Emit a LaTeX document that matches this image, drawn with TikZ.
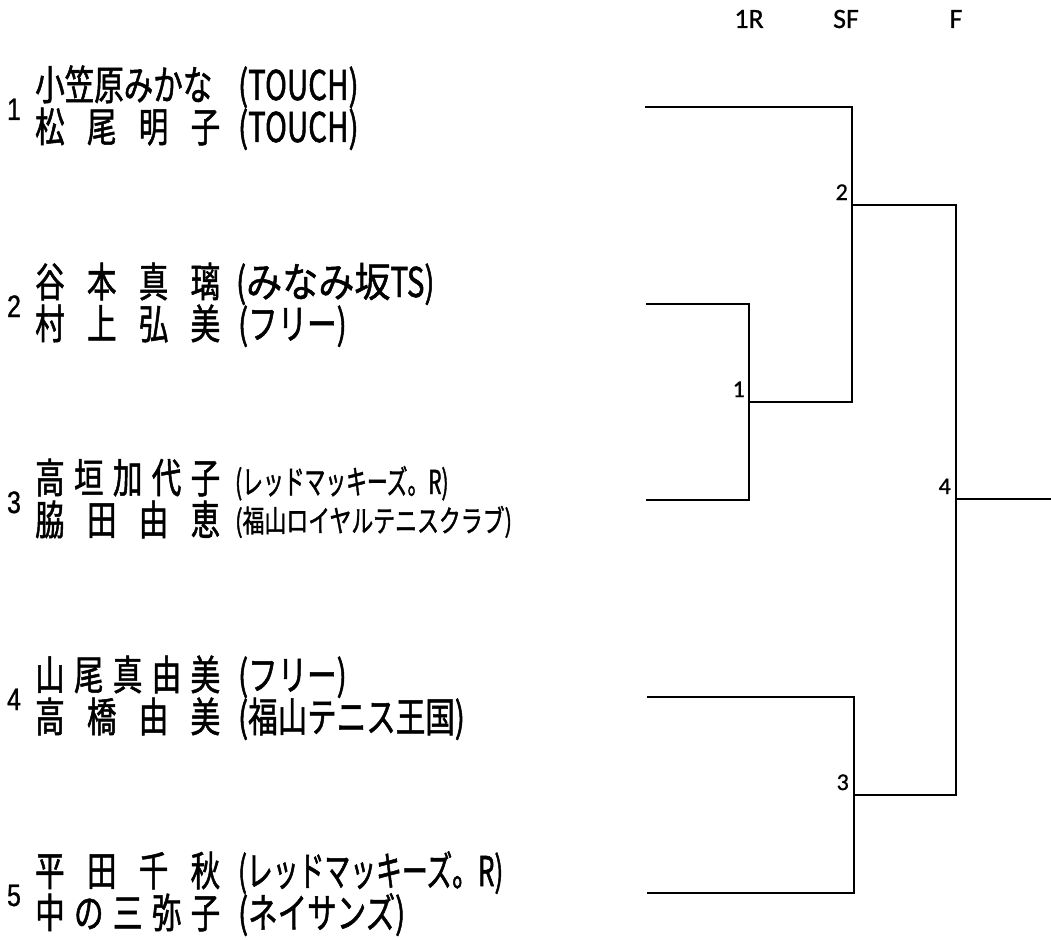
\documentclass[tikz,border=0pt]{standalone}
\usepackage{fontspec}
\newfontfamily\jpfont[FakeStretch=0.72, FakeBold=1.2]{Noto Sans CJK JP}
\newfontfamily\jpnarrow[FakeStretch=0.63, FakeBold=1.2]{Noto Sans CJK JP}
\newfontfamily\jpwide[FakeStretch=0.88, FakeBold=1.2]{Noto Sans CJK JP}
\newfontfamily\seedfont[FakeStretch=0.8, FakeBold=1]{Liberation Sans}
\newfontfamily\calfont[FakeBold=0.8]{Carlito}
\newcommand\teamname[1]{\makebox[185pt][s]{#1}}
\tikzset{
  bline/.style={line width=2.6pt, line join=miter, draw=black},
  pname/.style={anchor=base west, inner sep=0pt, font=\jpfont\fontsize{41}{44}\selectfont},
  club/.style={anchor=base west, inner sep=0pt, font=\jpfont\fontsize{41}{44}\selectfont},
  narrowclub/.style={anchor=base west, inner sep=0pt, font=\jpnarrow\fontsize{41}{44}\selectfont},
  smallnarrow/.style={anchor=base west, inner sep=0pt, font=\jpnarrow\fontsize{33}{36}\selectfont},
  smallclub/.style={anchor=base west, inner sep=0pt, font=\jpfont\fontsize{30.4}{33}\selectfont},
  seed/.style={anchor=base, inner sep=0pt, font=\seedfont\fontsize{31}{33}\selectfont},
  hdr/.style={anchor=base, inner sep=0pt, font=\calfont\fontsize{28}{30}\selectfont},
  mlabel/.style={anchor=base east, inner sep=0pt, font=\calfont\fontsize{24}{26}\selectfont}
}
\begin{document}
\begin{tikzpicture}[x=1pt,y=-1pt]
\useasboundingbox[fill=white] (0,0) rectangle (1051,939);

% headers
\node[hdr] (h1) at (749,28) {1R};
\node[hdr] (h2) at (846,28) {SF};
\node[hdr] (h3) at (956,28) {F};

% entry 1 (center 107)
\node[seed] (s1) at (14,120) {1};
\node[pname] (n1a) at (35,100) {小笠原みかな};
\node[club] (c1a) at (238,100) {(TOUCH)};
\node[pname] (n1b) at (35,142) {\teamname{松\hfill 尾\hfill 明\hfill 子}};
\node[club] (c1b) at (238,142) {(TOUCH)};

% entry 2 (center 304)
\node[seed] (s2) at (14,317) {2};
\node[pname] (n2a) at (35,297) {\teamname{谷\hfill 本\hfill 真\hfill 璃}};
\node[club] (c2a) at (236,297) {({\jpwide みなみ坂}TS)};
\node[pname] (n2b) at (35,339) {\teamname{村\hfill 上\hfill 弘\hfill 美}};
\node[club] (c2b) at (238,339) {(フリー)};

% entry 3 (center 500)
\node[seed] (s3) at (14,513) {3};
\node[pname] (n3a) at (35,493) {\teamname{高\hfill 垣\hfill 加\hfill 代\hfill 子}};
\node[smallnarrow] (c3a) at (235,494) {(レッドマッキーズ。R)};
\node[pname] (n3b) at (35,535) {\teamname{脇\hfill 田\hfill 由\hfill 恵}};
\node[smallclub] (c3b) at (235,532) {(福山ロイヤルテニスクラブ)};

% entry 4 (center 697)
\node[seed] (s4) at (14,710) {4};
\node[pname] (n4a) at (35,690) {\teamname{山\hfill 尾\hfill 真\hfill 由\hfill 美}};
\node[club] (c4a) at (238,690) {(フリー)};
\node[pname] (n4b) at (35,732) {\teamname{高\hfill 橋\hfill 由\hfill 美}};
\node[club] (c4b) at (238,732) {(福山テニス王国)};

% entry 5 (center 893)
\node[seed] (s5) at (14,906) {5};
\node[pname] (n5a) at (35,886) {\teamname{平\hfill 田\hfill 千\hfill 秋}};
\node[narrowclub] (c5a) at (238,886) {(レッドマッキーズ。R)};
\node[pname] (n5b) at (35,928) {\teamname{中\hfill の\hfill 三\hfill 弥\hfill 子}};
\node[club] (c5b) at (238,928) {(ネイサンズ)};

% bracket coordinates
\coordinate (p1) at (645,107);
\coordinate (p2) at (646,304);
\coordinate (p3) at (646,500);
\coordinate (p4) at (647,697);
\coordinate (p5) at (647,893);
\coordinate (m1) at (749,402);
\coordinate (m2) at (852,205);
\coordinate (m3) at (854,795);
\coordinate (m4) at (956,499);
\coordinate (w) at (1051,499);

% brackets
\draw[bline] (p2) -| (m1) |- (p3);
\draw[bline] (p1) -| (m2) |- (m1);
\draw[bline] (p4) -| (m3) |- (p5);
\draw[bline] (m2) -| (m4) |- (m3);
\draw[bline] (m4) -- (w);

% match numbers
\node[mlabel] (l1) at ([shift={(-4,-5)}]m1) {1};
\node[mlabel] (l2) at ([shift={(-4,-5)}]m2) {2};
\node[mlabel] (l3) at ([shift={(-5,-5)}]m3) {3};
\node[mlabel] (l4) at ([shift={(-5,-5)}]m4) {4};
\end{tikzpicture}
\end{document}
